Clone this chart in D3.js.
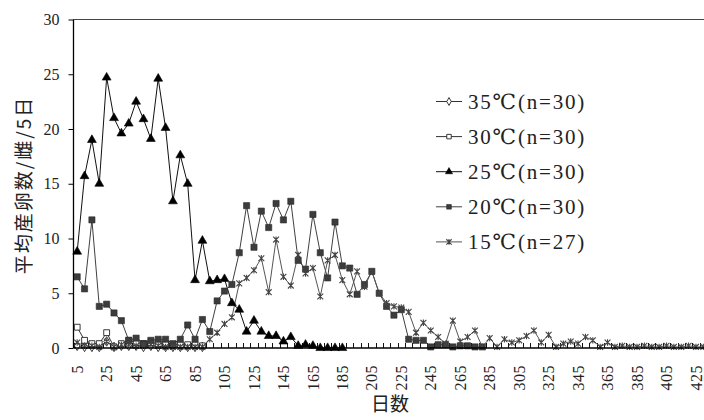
<!DOCTYPE html>
<html>
<head>
<meta charset="utf-8">
<script src="https://cdn.jsdelivr.net/npm/d3@7"></script>
<style>
  html, body { margin: 0; padding: 0; background: #fff; overflow: hidden; }
  svg { display: block; }
  text { font-family: "Liberation Serif", "DejaVu Serif", "Noto Sans CJK JP", serif; fill: #222; }
  .cjk { font-family: "Noto Sans CJK JP", sans-serif; }
</style>
</head>
<body>
<svg id="chart" width="704" height="420"></svg>
<script>
// Days after emergence (5-day bins)
const days = [5,10,15,20,25,30,35,40,45,50,55,60,65,70,75,80,85,90,95,100,
  105,110,115,120,125,130,135,140,145,150,155,160,165,170,175,180,185,190,195,200,
  205,210,215,220,225,230,235,240,245,250,255,260,265,270,275,280,285,290,295,300,
  305,310,315,320,325,330,335,340,345,350,355,360,365,370,375,380,385,390,395,400,
  405,410,415,420,425,430];

const dayTicks = [5,25,45,65,85,105,125,145,165,185,205,225,245,265,285,305,325,345,365,385,405,425];
const yTicks = [0,5,10,15,20,25,30];

// Mean eggs per female per 5 days, by rearing temperature
const t35 = [0.2,0.1,0.1,0.1,0.6,0.1,0.2,0.2,0.2,0.1,0.2,0.1,0.1,0.1,0.1,0.1,0.1,0.1];
const t30 = [1.9,0.7,0.4,0.4,1.4,0.1,0.4,0.7,0.5,0.4,0.5,0.4,0.4,0.3,0.3,0.3,0.3,0.2];
const t25 = [8.8,15.7,19.0,15.0,24.7,21.0,19.6,20.5,22.5,20.9,19.1,24.6,20.1,13.4,17.6,15.0,
  6.2,9.8,6.1,6.2,6.3,4.1,3.5,1.5,2.5,1.5,1.1,1.1,0.6,1.0,0.2,0.3,0.2,0,0,0,0];
const t20 = [6.5,5.4,11.7,3.8,4.0,3.2,2.5,0.7,0.9,0.4,0.7,0.8,0.8,0.4,0.8,2.1,0.8,2.6,1.5,4.3,
  5.2,5.8,8.7,13.0,9.2,12.5,11.0,13.2,11.7,13.4,8.0,7.2,12.2,8.7,6.4,11.5,7.5,7.3,4.9,5.8,
  7.0,5.0,3.8,3.0,3.5,0.8,0.7,0.7,0.1,0.3,0.3,0.1,0.2,0.2,0.1,0.1];
const t15 = [0.5,0.2,0.2,0.1,0.6,0.1,0.3,0.3,0.2,0.2,0.3,0.2,0.1,0.1,0.1,0.1,0.1,0.1,
  0.8,1.4,2.2,2.8,5.9,6.4,7.1,8.2,5.1,9.9,6.5,5.7,8.5,6.8,7.3,4.7,8.0,8.5,6.2,4.9,7.0,5.6,
  7.0,5.0,4.1,3.8,3.7,3.3,1.4,2.3,1.6,1.0,0.4,2.5,0.6,
  1.0,1.6,0.1,0.9,0.1,0.8,0.5,0.7,1.1,1.6,0.5,1.2,0.1,0.4,0.6,0.4,1.0,0.7,0.1,0.5,
  0.1,0.2,0.1,0.1,0.2,0.1,0.1,0.2,0.1,0.1,0.2,0.1,0.1];

const seriesNames = ["35℃(n=30)","30℃(n=30)","25℃(n=30)","20℃(n=30)","15℃(n=27)"];

const svg = d3.select("#chart");
const plot = { left: 73.5, top: 19.5, bottom: 348, right: 707 };

const x = d3.scaleBand().domain(days).range([plot.left, plot.right]).padding(0);
const y = d3.scaleLinear().domain([0, 30]).range([plot.bottom, plot.top]);
const cx = d => x(d) + x.bandwidth() / 2;

// asterisk marker: an x with a vertical stroke
const asterisk = {
  draw(ctx, size) {
    const r = Math.sqrt(size) / 2;
    ctx.moveTo(-r, -r); ctx.lineTo(r, r);
    ctx.moveTo(-r, r); ctx.lineTo(r, -r);
    ctx.moveTo(0, -r * 1.1); ctx.lineTo(0, r * 1.1);
  }
};

const styles = [
  { data: t35, line: "#333", sym: d3.symbolDiamond, size: 26, fill: "#fff", stroke: "#222", sw: 0.9, lsize: 18 },
  { data: t30, line: "#333", sym: d3.symbolSquare, size: 34, fill: "#fff", stroke: "#222", sw: 0.9, lsize: 20 },
  { data: t25, line: "#111", sym: d3.symbolTriangle, size: 34, fill: "#000", stroke: "#000", sw: 0.6, lsize: 22 },
  { data: t20, line: "#404040", sym: d3.symbolSquare, size: 38, fill: "#3c3c3c", stroke: "#2a2a2a", sw: 0.6, lsize: 22 },
  { data: t15, line: "#555", sym: asterisk, size: 34, fill: "none", stroke: "#444", sw: 1.1, lsize: 28 }
];

// frame: top border and axes
svg.append("line").attr("x1", plot.left).attr("x2", plot.right)
  .attr("y1", plot.top).attr("y2", plot.top)
  .attr("stroke", "#444").attr("stroke-width", 1.2);

// category boundary ticks, pointing into the plot
const bounds = days.map(d => x(d)).concat([plot.right]);
svg.append("g").selectAll("line").data(bounds).join("line")
  .attr("x1", d => Math.round(d) + 0.5).attr("x2", d => Math.round(d) + 0.5)
  .attr("y1", plot.bottom).attr("y2", plot.bottom - 5)
  .attr("stroke", "#111").attr("stroke-width", 1);

// series lines and markers
styles.forEach(s => {
  const pts = s.data.map((v, i) => ({ d: days[i], v })).filter(p => p.v != null);
  svg.append("path").datum(pts)
    .attr("fill", "none").attr("stroke", s.line).attr("stroke-width", 1)
    .attr("d", d3.line().x(p => cx(p.d)).y(p => y(p.v)));
});
styles.forEach(s => {
  const pts = s.data.map((v, i) => ({ d: days[i], v })).filter(p => p.v != null);
  svg.append("g").selectAll("path").data(pts).join("path")
    .attr("transform", p => `translate(${cx(p.d)},${y(p.v)})`)
    .attr("d", d3.symbol(s.sym, s.size))
    .attr("fill", s.fill).attr("stroke", s.stroke).attr("stroke-width", s.sw);
});

// x axis
const xAxis = svg.append("g").attr("transform", `translate(0,${plot.bottom})`)
  .call(d3.axisBottom(x).tickValues(dayTicks).tickSize(0).tickPadding(0));
xAxis.select(".domain").attr("stroke", "#000").attr("stroke-width", 1.3)
  .attr("d", `M${plot.left},0H${plot.right}`);
xAxis.selectAll("text")
  .attr("transform", "translate(0,17) rotate(-90)")
  .attr("text-anchor", "end").attr("dy", "0.35em").attr("dx", "0")
  .attr("y", 0).attr("x", 0)
  .style("font-size", "16px").style("letter-spacing", "0.5px")
  .style("font-family", "Liberation Serif, serif").attr("fill", "#222");

// y axis
const yAxis = svg.append("g").attr("transform", `translate(${plot.left},0)`)
  .call(d3.axisLeft(y).tickValues(yTicks).tickSize(5).tickPadding(9));
yAxis.select(".domain").attr("stroke", "#000").attr("stroke-width", 1.3)
  .attr("d", `M0,${plot.bottom}V${plot.top}`);
yAxis.selectAll("line").attr("stroke", "#000");
yAxis.selectAll("text").style("font-size", "16px")
  .style("font-family", "Liberation Serif, serif").attr("fill", "#222");

// axis titles
svg.append("text").attr("class", "cjk")
  .attr("transform", "translate(24,185) rotate(-90)")
  .attr("text-anchor", "middle").attr("dy", "0.35em")
  .style("font-size", "19px").style("letter-spacing", "2px").attr("fill", "#333")
  .text("平均産卵数/雌/5日");
svg.append("text").attr("class", "cjk")
  .attr("x", 390).attr("y", 404).attr("text-anchor", "middle").attr("dy", "0.35em")
  .style("font-size", "19px").attr("fill", "#333")
  .text("日数");

// legend
const legend = svg.append("g").attr("transform", "translate(436,101.5)");
styles.forEach((s, i) => {
  const g = legend.append("g").attr("transform", `translate(0,${i * 35.1})`);
  g.append("line").attr("x1", 0).attr("x2", 26).attr("y1", 0).attr("y2", 0)
    .attr("stroke", s.line).attr("stroke-width", 1);
  g.append("path").attr("transform", "translate(13,0)")
    .attr("d", d3.symbol(s.sym, s.lsize))
    .attr("fill", s.fill).attr("stroke", s.stroke).attr("stroke-width", s.sw);
  g.append("text").attr("x", 32).attr("y", 0).attr("dy", "0.35em")
    .style("font-size", "21px").style("letter-spacing", "1.8px").attr("fill", "#222")
    .text(seriesNames[i]);
});
</script>
</body>
</html>
